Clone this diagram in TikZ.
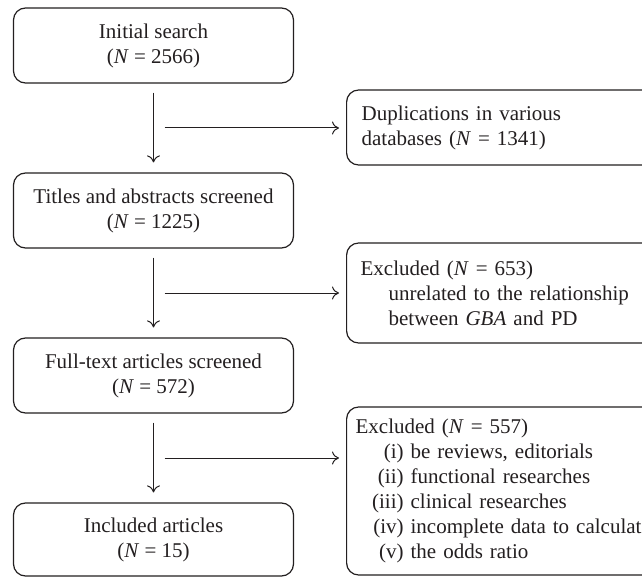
\documentclass[tikz,border=0pt]{standalone}
\usepackage{fontspec}
\setmainfont{Liberation Serif}
\usetikzlibrary{arrows.meta,calc}
\definecolor{ink}{HTML}{231F20}
\begin{document}
\begin{tikzpicture}[x=1pt,y=-1pt,
  txt/.style={font=\fontsize{21}{25}\selectfont, text=ink},
  box/.style={txt, draw=ink, line width=1.2pt, rounded corners=12pt, minimum width=280pt, minimum height=75pt, align=center, inner sep=0pt},
  rbox/.style={txt, draw=ink, line width=1.2pt, rounded corners=12pt, anchor=west, minimum width=324pt, align=left, inner ysep=0pt},
  arr/.style={draw=ink, line width=1pt, -{To[length=7pt,width=13pt]}}]
\useasboundingbox[fill=white] (0,0) rectangle (642,577);

\node[box] (b1) at (153.5,45.5) {Initial search\\(\textit{N} = 2566)};
\node[box] (b2) at (153.5,210.5) {Titles and abstracts screened\\(\textit{N} = 1225)};
\node[box] (b3) at (153.5,375.5) {Full-text articles screened\\(\textit{N} = 572)};
\node[box, minimum height=73pt] (b4) at (153.5,539.5) {Included articles\\(\textit{N} = 15)};

\node[rbox, minimum height=75pt, inner xsep=15pt, text width=294pt] (r1) at (346,127.5)
  {Duplications in various\\databases (\textit{N} = 1341)};
\node[rbox, minimum height=100pt, inner xsep=14pt, text width=296pt] (r2) at (346,293)
  {Excluded (\textit{N} = 653)\\\hspace*{28pt}unrelated to the relationship\\\hspace*{28pt}between \textit{GBA} and PD};
\node[rbox, minimum height=168pt, inner xsep=9pt, text width=306pt] (r3) at (346,491)
  {Excluded (\textit{N} = 557)\\
   \makebox[48pt][r]{(i)} be reviews, editorials\\
   \makebox[48pt][r]{(ii)} functional researches\\
   \makebox[48pt][r]{(iii)} clinical researches\\
   \makebox[48pt][r]{(iv)} incomplete data to calculate\\
   \makebox[48pt][r]{(v)} the odds ratio};

\draw[arr, shorten <=9pt, shorten >=10pt] (b1) -- (b2);
\draw[arr, shorten <=9pt, shorten >=10pt] (b2) -- (b3);
\draw[arr, shorten <=9pt, shorten >=10pt] (b3) -- (b4);

\coordinate (m1) at ($(b1.south)!0.5!(b2.north)$);
\coordinate (m2) at ($(b2.south)!0.5!(b3.north)$);
\coordinate (m3) at ($(b3.south)!0.5!(b4.north)$);
\draw[arr, shorten >=7pt] ([xshift=11pt]m1) -- (m1 -| r1.west);
\draw[arr, shorten >=7pt] ([xshift=11pt]m2) -- (m2 -| r2.west);
\draw[arr, shorten >=7pt] ([xshift=11pt]m3) -- (m3 -| r3.west);
\end{tikzpicture}
\end{document}
